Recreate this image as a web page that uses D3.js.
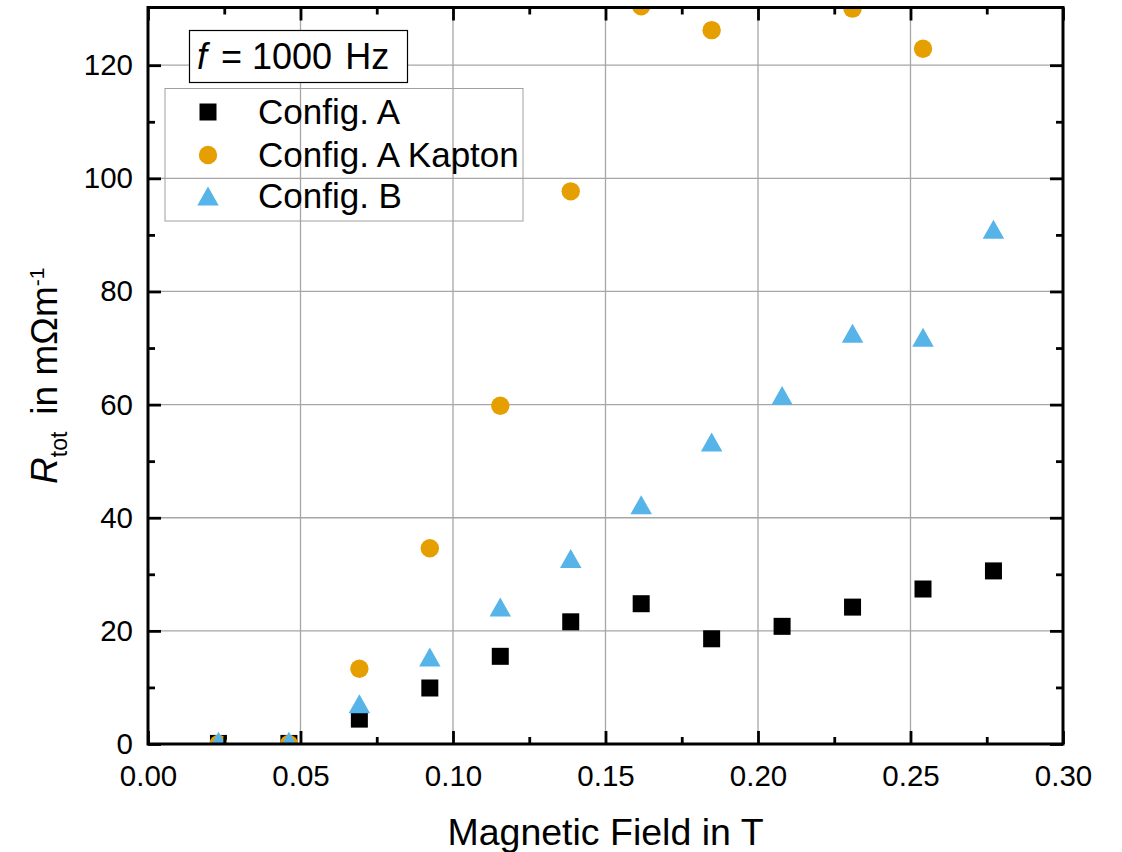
<!DOCTYPE html>
<html>
<head>
<meta charset="utf-8">
<script src="https://cdn.jsdelivr.net/npm/d3@7"></script>
<style>
  body { margin: 0; background: #fff; }
  text { font-family: 'Liberation Sans', Arial, sans-serif; }
</style>
</head>
<body>
<div id="chart"></div>
<script>
// magnetic field values (T) and measured resistance (mOhm/m)
const fieldT = [0.0231, 0.0462, 0.0693, 0.0924, 0.1155, 0.1386, 0.1617, 0.1848, 0.2079, 0.2310, 0.2541, 0.2772]
const configA = [0.1, 0.1, 4.4, 9.9, 15.5, 21.6, 24.8, 18.6, 20.8, 24.2, 27.4, 30.6]
const configAKapton = [0.0, 0.0, 13.3, 34.6, 59.8, 97.7, 130.4, 126.2, null, 130.0, 122.9, null]
const configB = [0.5, 0.5, 7.1, 15.4, 24.2, 32.8, 42.3, 53.4, 61.6, 72.6, 71.9, 91.0]

const seriesNames = ['Config. A', 'Config. A Kapton', 'Config. B']
const xTicks = [0, 0.05, 0.10, 0.15, 0.20, 0.25, 0.30]
const yTicks = [0, 20, 40, 60, 80, 100, 120]

const widthD3 = 1122
const heightD3 = 852
const plotL = 148, plotR = 1063, plotT = 7.5, plotB = 744

const svg = d3.select('#chart').append('svg')
    .attr('width', widthD3)
    .attr('height', heightD3)

const xScale = d3.scaleLinear().domain([0, 0.30]).range([plotL, plotR])
const yScale = d3.scaleLinear().domain([0, 130.2]).range([plotB, plotT])

const xMinor = d3.range(0.025, 0.3, 0.05)
const yMinor = d3.range(10, 130, 20)

// grid
const grid = svg.append('g').attr('stroke', '#a6a6a6').attr('stroke-width', 1.3)
grid.selectAll('line.gx').data(xTicks.slice(1, -1)).enter().append('line')
    .attr('x1', d => xScale(d)).attr('x2', d => xScale(d))
    .attr('y1', plotT).attr('y2', plotB)
grid.selectAll('line.gy').data(yTicks.slice(1)).enter().append('line')
    .attr('x1', plotL).attr('x2', plotR)
    .attr('y1', d => yScale(d)).attr('y2', d => yScale(d))

// legend box (transparent, gridlines show through)
svg.append('rect')
    .attr('x', 165).attr('y', 88.5).attr('width', 358).attr('height', 132.5)
    .attr('fill', 'none').attr('stroke', '#a0a0a0').attr('stroke-width', 1)

// markers
svg.append('clipPath').attr('id', 'plotClip').append('rect')
    .attr('x', plotL).attr('y', plotT).attr('width', plotR - plotL).attr('height', plotB - plotT)

const marks = svg.append('g').attr('clip-path', 'url(#plotClip)')

const squareSize = 17
const circleR = 9.2
const triW = 21.5, triH = 19
const triPath = (cx, cy) => `M${cx - triW / 2},${cy + triH / 2}L${cx + triW / 2},${cy + triH / 2}L${cx},${cy - triH / 2}Z`

const toPoints = arr => arr.map((v, i) => ({x: fieldT[i], y: v})).filter(d => d.y !== null)

marks.selectAll('rect.a').data(toPoints(configA)).enter().append('rect')
    .attr('x', d => xScale(d.x) - squareSize / 2)
    .attr('y', d => yScale(d.y) - squareSize / 2)
    .attr('width', squareSize).attr('height', squareSize)
    .attr('fill', '#000')

marks.selectAll('circle.k').data(toPoints(configAKapton)).enter().append('circle')
    .attr('cx', d => xScale(d.x)).attr('cy', d => yScale(d.y))
    .attr('r', circleR)
    .attr('fill', '#e69f00')

marks.selectAll('path.b').data(toPoints(configB)).enter().append('path')
    .attr('d', d => triPath(xScale(d.x), yScale(d.y)))
    .attr('fill', '#56b4e9')

// axes
const tickFont = 29.5
const styleAxis = g => {
    g.select('.domain').remove()
    g.selectAll('.tick line').attr('stroke', '#000').attr('stroke-width', 2.8)
    g.selectAll('text').attr('font-size', tickFont).attr('fill', '#000')
        .attr('font-family', "'Liberation Sans', Arial, sans-serif")
}

svg.append('g').attr('transform', `translate(0,${plotB})`)
    .call(d3.axisBottom(xScale).tickValues(xTicks).tickFormat(d3.format('.2f')).tickSize(-13).tickPadding(21))
    .call(styleAxis)
svg.append('g').attr('transform', `translate(0,${plotB})`)
    .call(d3.axisBottom(xScale).tickValues(xMinor).tickFormat('').tickSize(-7))
    .call(styleAxis)
svg.append('g').attr('transform', `translate(0,${plotT})`)
    .call(d3.axisTop(xScale).tickValues(xTicks).tickFormat('').tickSize(-13))
    .call(styleAxis)
svg.append('g').attr('transform', `translate(0,${plotT})`)
    .call(d3.axisTop(xScale).tickValues(xMinor).tickFormat('').tickSize(-7))
    .call(styleAxis)

svg.append('g').attr('transform', `translate(${plotL},0)`)
    .call(d3.axisLeft(yScale).tickValues(yTicks).tickSize(-13).tickPadding(15))
    .call(styleAxis)
svg.append('g').attr('transform', `translate(${plotL},0)`)
    .call(d3.axisLeft(yScale).tickValues(yMinor).tickFormat('').tickSize(-7))
    .call(styleAxis)
svg.append('g').attr('transform', `translate(${plotR},0)`)
    .call(d3.axisRight(yScale).tickValues(yTicks).tickFormat('').tickSize(-13))
    .call(styleAxis)
svg.append('g').attr('transform', `translate(${plotR},0)`)
    .call(d3.axisRight(yScale).tickValues(yMinor).tickFormat('').tickSize(-7))
    .call(styleAxis)

// frame
svg.append('rect')
    .attr('x', plotL).attr('y', plotT).attr('width', plotR - plotL).attr('height', plotB - plotT)
    .attr('fill', 'none').attr('stroke', '#000').attr('stroke-width', 3)

// axis titles
svg.append('text')
    .attr('x', (plotL + plotR) / 2).attr('y', 845)
    .attr('text-anchor', 'middle').attr('font-size', 37.5)
    .text('Magnetic Field in T')

const yTitle = svg.append('text')
    .attr('transform', `translate(57,${(plotT + plotB) / 2}) rotate(-90)`)
    .attr('text-anchor', 'middle').attr('font-size', 37)
yTitle.append('tspan').attr('font-style', 'italic').text('R')
yTitle.append('tspan').attr('font-size', 23).attr('dy', 10).text('tot')
yTitle.append('tspan').attr('dy', -10).attr('dx', 17).text('in m\u03A9m')
yTitle.append('tspan').attr('font-size', 21).attr('dy', -13).text('-1')

// frequency box
svg.append('rect')
    .attr('x', 189.5).attr('y', 30.5).attr('width', 218).attr('height', 52)
    .attr('fill', '#fff').attr('stroke', '#000').attr('stroke-width', 1.2)
const fText = svg.append('text').attr('x', 197).attr('y', 69).attr('font-size', 36)
fText.append('tspan').attr('font-style', 'italic').text('f')
fText.append('tspan').attr('dx', 4).text(' = 1000')
fText.append('tspan').attr('dx', 3).text(' Hz')

// legend entries
const legend = svg.append('g')
const legendY = [112, 155, 196]
legend.append('rect')
    .attr('x', 208 - squareSize / 2).attr('y', legendY[0] - squareSize / 2)
    .attr('width', squareSize).attr('height', squareSize).attr('fill', '#000')
legend.append('circle').attr('cx', 208).attr('cy', legendY[1]).attr('r', circleR).attr('fill', '#e69f00')
legend.append('path').attr('d', triPath(208, legendY[2])).attr('fill', '#56b4e9')
legend.selectAll('text').data(seriesNames).enter().append('text')
    .attr('x', 258).attr('y', (d, i) => legendY[i] + 11.5)
    .attr('font-size', 35)
    .text(d => d)
</script>
</body>
</html>
